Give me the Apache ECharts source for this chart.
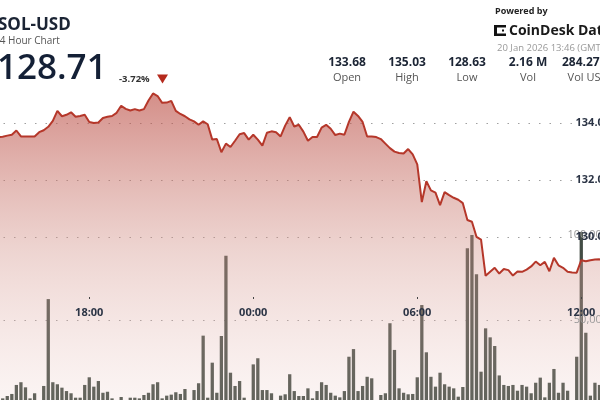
<!DOCTYPE html>
<html><head><meta charset="utf-8">
<script src="https://cdn.jsdelivr.net/npm/echarts@6/dist/echarts.min.js"></script>
<style>html,body{margin:0;padding:0;background:#fff;overflow:hidden}#c{width:600px;height:400px}</style>
</head><body><div id="c"></div>
<script>
// ---- data ----
const startTime = [13, 50];      // first 10-minute bucket (19 Jan)
const stepMinutes = 10;
const bucketCount = 144;
const categories = [];
for (let i = 0; i < bucketCount; i++) {
  const m = (startTime[0] * 60 + startTime[1] + i * stepMinutes) % 1440;
  categories.push(String(Math.floor(m / 60)).padStart(2, '0') + ':' + String(m % 60).padStart(2, '0'));
}
const timeTicks = ['18:00', '00:00', '06:00', '12:00'];

const priceValues = [
  133.69, 133.60, 133.65, 133.55, 133.60, 133.50,
  133.51, 133.55, 133.58, 133.73, 133.52, 133.52, 133.52, 133.52,
  133.67, 133.74, 133.86, 134.07, 134.42, 134.23, 134.28, 134.37,
  134.21, 134.24, 134.28, 134.03, 133.99, 134.01, 134.17, 134.21,
  134.24, 134.35, 134.60, 134.49, 134.43, 134.48, 134.43, 134.48,
  134.78, 135.03, 134.94, 134.70, 134.71, 134.77, 134.42, 134.31,
  134.23, 134.12, 134.05, 133.93, 134.05, 133.95, 133.41, 133.43,
  132.97, 133.27, 133.15, 133.37, 133.60, 133.64, 133.41, 133.58,
  133.41, 133.20, 133.65, 133.70, 133.67, 133.52, 133.90, 134.20,
  133.87, 133.93, 133.69, 133.37, 133.50, 133.50, 133.83, 133.93,
  133.79, 133.57, 133.62, 133.58, 134.03, 134.39, 134.24, 134.03,
  133.52, 133.52, 133.50, 133.43, 133.27, 133.11, 132.99, 132.94,
  132.92, 133.08, 132.89, 132.54, 131.22, 131.95, 131.63, 131.55,
  131.11, 131.57, 131.46, 131.37, 131.30, 131.18, 130.59, 130.53,
  130.00, 129.90, 128.63, 128.77, 128.91, 128.71, 128.87, 128.83,
  128.64, 128.78, 128.77, 128.85, 128.96, 129.13, 129.00, 129.12,
  128.79, 129.26, 129.00, 128.91, 128.77, 128.75, 128.74, 129.18,
  129.14, 129.18, 129.20, 129.21, 129.15, 129.05, 128.95, 128.85, 128.80, 128.71
];

const volumeValues = [
  6000, 4000, 8000, 5000, 3000, 4500,
  3900, 5300, 6500, 11800, 13400, 10400, 3900, 6900,
  1500, 11200, 62300, 13400, 12200, 10200, 8200, 6900,
  4300, 4300, 11800, 16300, 10800, 14100, 7200, 7800,
  3900, 1200, 4700, 1500, 4300, 4300, 3900, 5900,
  7200, 12200, 13400, 3900, 5500, 6100, 7500, 6500,
  9400, 1800, 8800, 12800, 40800, 4300, 24900, 7200,
  40600, 87800, 19000, 11200, 14100, 4300, 1600, 23900,
  27500, 8800, 8800, 6900, 1400, 5500, 6300, 18100,
  8200, 5300, 5300, 9800, 3900, 8200, 13400, 11800,
  7200, 5500, 4500, 8200, 28400, 32900, 8200, 11200,
  16600, 15700, 1600, 5900, 6900, 48100, 32400, 9800,
  7200, 6300, 6500, 16300, 58800, 31000, 16600, 10800,
  19000, 12200, 10800, 9800, 4900, 10600, 92200, 100000,
  76900, 19600, 45100, 39800, 34700, 17400, 11800, 11200,
  11800, 8400, 11800, 10800, 6900, 13100, 16100, 4500,
  13100, 21200, 7200, 13100, 8400, 1200, 28400, 101800,
  42500, 5500, 13100, 11800, 9000, 12000, 7000, 15000, 8000, 5000
];

const priceTicks = [130, 132, 134];
const volumeTicks = [50000, 100000];

const statValues = ['133.68', '135.03', '128.63', '2.16 M', '284.27 M'];
const statLabels = ['Open', 'High', 'Low', 'Vol', 'Vol USD'];

// ---- chart ----
const FONT = '"Open Sans", "Noto Sans", sans-serif';
const chart = echarts.init(document.getElementById('c'));
const L = -26.9, R = -29.1;
const showTime = (idx, val) => timeTicks.includes(val);

const statX = [347, 407, 467, 528, 588];
const graphics = [
  { type: 'text', x: -2, y: 25, style: { text: 'SOL-USD', font: 'bold 17px ' + FONT, fill: '#1b2434', verticalAlign: 'middle' } },
  { type: 'text', x: -6, y: 41, style: { text: '24 Hour Chart', font: '10px ' + FONT, fill: '#555', verticalAlign: 'middle' } },
  { type: 'text', x: -3, y: 69, style: { text: '128.71', font: '600 35px ' + FONT, fill: '#142036', verticalAlign: 'middle' } },
  { type: 'text', x: 119, y: 79.5, style: { text: '-3.72%', font: 'bold 9.5px ' + FONT, fill: '#333', verticalAlign: 'middle' } },
  { type: 'polygon', shape: { points: [[157, 74.5], [168, 74.5], [162.5, 83.5]] }, style: { fill: '#b52a1d' } },
  { type: 'text', x: 495, y: 11.5, style: { text: 'Powered by', font: 'bold 9px ' + FONT, fill: '#222', verticalAlign: 'middle' } },
  { type: 'rect', shape: { x: 494, y: 25, width: 3, height: 11 }, style: { fill: '#111' } },
  { type: 'rect', shape: { x: 494, y: 25, width: 12, height: 2.5 }, style: { fill: '#111' } },
  { type: 'rect', shape: { x: 494, y: 33.5, width: 12, height: 2.5 }, style: { fill: '#111' } },
  { type: 'rect', shape: { x: 502, y: 29.5, width: 2, height: 2 }, style: { fill: '#111' } },
  { type: 'text', x: 509, y: 31, style: { text: 'CoinDesk Data', font: 'bold 14px ' + FONT, fill: '#1a1a1a', verticalAlign: 'middle' } },
  { type: 'text', x: 497, y: 48, style: { text: '20 Jan 2026 13:46 (GMT)', font: '9.5px ' + FONT, fill: '#999', verticalAlign: 'middle' } }
];
statValues.forEach((v, i) => {
  graphics.push({ type: 'text', x: statX[i], y: 62.5, style: { text: v, font: 'bold 12px ' + FONT, fill: '#1b2434', align: 'center', verticalAlign: 'middle' } });
  graphics.push({ type: 'text', x: statX[i], y: 77.5, style: { text: statLabels[i], font: '11px ' + FONT, fill: '#555', align: 'center', verticalAlign: 'middle' } });
});

const dotted = { type: [1.5, 9], color: '#a0a0a0', width: 1.2 };

chart.setOption({
  animation: false,
  backgroundColor: '#ffffff',
  textStyle: { fontFamily: FONT },
  grid: [
    { left: L, right: R, top: 8.8, height: 399, outerBoundsMode: 'none', containLabel: false },
    { left: L, right: R, top: 150, height: 255, outerBoundsMode: 'none', containLabel: false },
    { left: -28, right: 28, top: 65.8, height: 228, outerBoundsMode: 'none', containLabel: false },
    { left: -28, right: 28, top: 235, height: 170, outerBoundsMode: 'none', containLabel: false }
  ],
  xAxis: [
    { gridIndex: 0, type: 'category', data: categories, show: false },
    { gridIndex: 1, type: 'category', data: categories, offset: -108, z: 6,
      axisLine: { show: false },
      axisTick: { show: true, length: 2, alignWithLabel: true, interval: showTime, lineStyle: { color: '#444' } },
      axisLabel: { interval: showTime, color: '#2b3445', fontWeight: 'bold', fontSize: 11, margin: 10, fontFamily: FONT } },
    { gridIndex: 2, type: 'value', show: false, min: 0, max: 1 },
    { gridIndex: 3, type: 'value', show: false, min: 0, max: 1 }
  ],
  yAxis: [
    { gridIndex: 0, type: 'value', min: 124, max: 138, interval: 2, position: 'right', z: 6,
      axisLine: { show: false }, axisTick: { show: false }, splitLine: { show: false },
      axisLabel: { inside: true, margin: 19, formatter: v => priceTicks.includes(v) ? v.toFixed(2) : '', color: '#2b3445', fontWeight: 'bold', fontSize: 11, fontFamily: FONT } },
    { gridIndex: 1, type: 'value', min: 0, max: 150000, interval: 50000, position: 'right', z: 5,
      axisLine: { show: false }, axisTick: { show: false }, splitLine: { show: false },
      axisLabel: { inside: true, margin: 21, formatter: v => volumeTicks.includes(v) ? v.toLocaleString('en-US') : '', color: '#9a9a9a', fontSize: 11, fontFamily: FONT } },
    { gridIndex: 2, type: 'value', min: 128, max: 136, interval: 2,
      axisLine: { show: false }, axisTick: { show: false }, axisLabel: { show: false },
      splitLine: { show: true, showMinLine: false, showMaxLine: false, lineStyle: dotted } },
    { gridIndex: 3, type: 'value', min: 0, max: 100000, interval: 50000,
      axisLine: { show: false }, axisTick: { show: false }, axisLabel: { show: false },
      splitLine: { show: true, showMinLine: false, showMaxLine: false, lineStyle: dotted } }
  ],
  series: [
    { type: 'bar', xAxisIndex: 1, yAxisIndex: 1, data: volumeValues, barCategoryGap: '28%', z: 1, silent: true,
      itemStyle: { color: '#434d45' } },
    { type: 'line', xAxisIndex: 0, yAxisIndex: 0, data: priceValues, symbol: 'none', z: 3, silent: true,
      lineStyle: { color: '#b5372a', width: 2 },
      areaStyle: { color: new echarts.graphic.LinearGradient(0, 0, 0, 1, [
        { offset: 0, color: 'rgba(185,72,62,0.88)' },
        { offset: 0.5, color: 'rgba(212,150,141,0.58)' },
        { offset: 1, color: 'rgba(235,200,195,0.25)' }
      ]) } }
  ],
  graphic: graphics
});
</script>
</body></html>
